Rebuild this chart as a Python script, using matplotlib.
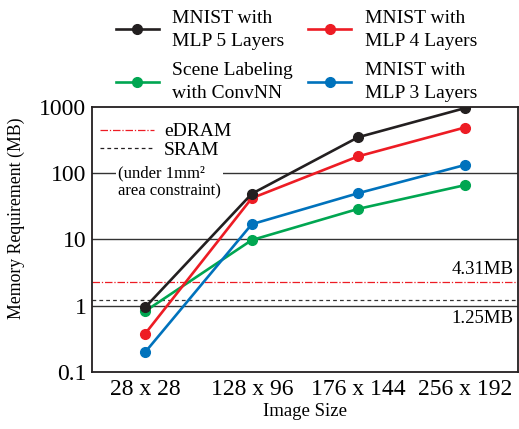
import numpy as np
import matplotlib
matplotlib.use('Agg')
import matplotlib.pyplot as plt
from matplotlib.lines import Line2D

plt.rcParams['font.family'] = ['Liberation Serif', 'DejaVu Serif']

# data
image_sizes = ['28 x 28', '128 x 96', '176 x 144', '256 x 192']
mlp5 = [0.95, 49, 350, 960]
mlp4 = [0.38, 42, 180, 490]
scene = [0.83, 9.8, 29, 66]
mlp3 = [0.20, 17, 50, 133]
series_labels = ['MNIST with\nMLP 5 Layers', 'Scene Labeling\nwith ConvNN',
                 'MNIST with\nMLP 4 Layers', 'MNIST with\nMLP 3 Layers']
edram_level = 2.25
sram_level = 1.2
edram_text = '4.31MB'
sram_text = '1.25MB'
grid_levels = [1, 10, 100]

colors = {'black': '#231f20', 'red': '#ed1c24', 'green': '#00a651', 'blue': '#0072bc'}

fig = plt.figure(figsize=(5.19, 4.29), dpi=100)
ax = fig.add_axes([0.1773, 0.1329, 0.8208, 0.6177])

x = np.arange(len(image_sizes))

# reference lines
for g in grid_levels:
    ax.axhline(g, color='#333333', lw=1.0, zorder=1)
ax.axhline(edram_level, color=colors['red'], lw=0.9, ls=(0, (6, 1.5, 1, 1.5)), zorder=1)
ax.axhline(sram_level, color='#333333', lw=0.9, ls=(0, (3, 2.5)), zorder=1)

handles = []
for ys, c, lab in [(mlp5, colors['black'], series_labels[0]),
                   (scene, colors['green'], series_labels[1]),
                   (mlp4, colors['red'], series_labels[2]),
                   (mlp3, colors['blue'], series_labels[3])]:
    h, = ax.plot(x, ys, color=c, lw=1.9, marker='o', ms=7, label=lab, zorder=3)
    handles.append(h)

# black on top as in the reference
handles[0].set_zorder(4)

ax.set_yscale('log')
ax.set_ylim(0.1, 1000)
ax.set_xlim(-0.5, 3.5)
ax.set_xticks(x)
ax.set_xticklabels(image_sizes, fontsize=17)
ax.set_yticks([0.1, 1, 10, 100, 1000])
ax.set_yticklabels(['0.1', '1', '10', '100', '1000'], fontsize=17)
ax.yaxis.set_minor_locator(matplotlib.ticker.NullLocator())
ax.tick_params(length=0, pad=4)
ax.tick_params(axis='x', pad=5)
for s in ax.spines.values():
    s.set_linewidth(1.3)
    s.set_color('#231f20')

ax.set_xlabel('Image Size', fontsize=13.5, labelpad=2)
ax.set_ylabel('Memory Requirement (MB)', fontsize=12.8)
ax.yaxis.set_label_coords(-0.157, 0.58)

# series legend above the axes
leg = ax.legend(handles=handles, ncol=2, loc='lower center', bbox_to_anchor=(0.48, 0.985),
                frameon=False, fontsize=14, handlelength=2.2, handletextpad=0.7,
                columnspacing=0.8, labelspacing=0.65, borderaxespad=0.05)
for t in leg.get_texts():
    t.set_linespacing(1.45)
ax.add_artist(leg)

# memory legend inside the axes
mem_handles = [Line2D([], [], color=colors['red'], lw=0.9, ls=(0, (6, 1.5, 1, 1.5))),
               Line2D([], [], color='#231f20', lw=0.9, ls=(0, (3, 2.5)))]
ax.legend(mem_handles, ['eDRAM', 'SRAM'], loc='upper left', bbox_to_anchor=(0.0, 0.97),
          frameon=False, fontsize=14, handlelength=2.8, handletextpad=0.5,
          labelspacing=0.05, borderaxespad=0)

ax.text(0.062, 0.78, '(under 1mm²\narea constraint)', transform=ax.transAxes,
        fontsize=12, va='top', ha='left', linespacing=1.15, zorder=2,
        bbox=dict(facecolor='white', edgecolor='none', pad=1.5))

ax.annotate(edram_text, xy=(1, edram_level), xycoords=('axes fraction', 'data'),
            xytext=(-3, 3), textcoords='offset points', ha='right', va='bottom', fontsize=13.5)
ax.annotate(sram_text, xy=(1, 1), xycoords=('axes fraction', 'data'),
            xytext=(-3, -3), textcoords='offset points', ha='right', va='top', fontsize=13.5)

fig.savefig('out.png', dpi=100)
